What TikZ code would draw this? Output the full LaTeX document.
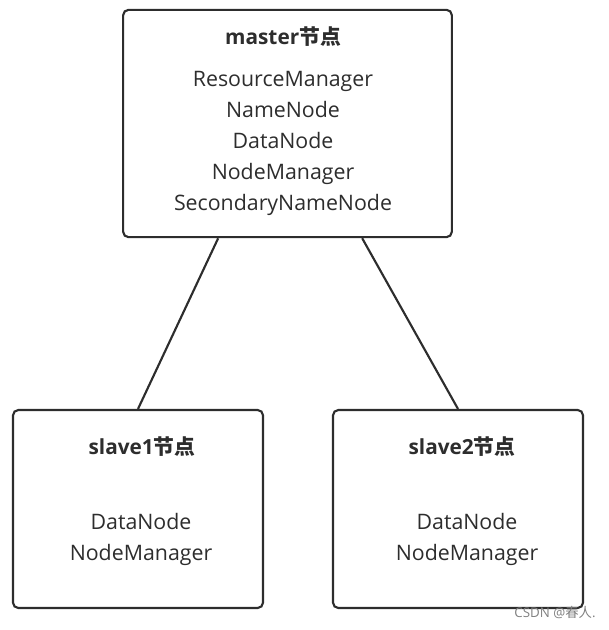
\documentclass[tikz,border=0pt]{standalone}
\usepackage{fontspec}
\setmainfont{Open Sans}
\newfontfamily\cjk{Noto Sans CJK SC}
\usetikzlibrary{positioning}
\definecolor{inkgray}{RGB}{45,45,45}
\tikzset{
  hostbox/.style={draw=inkgray, line width=1.6pt, rounded corners=4pt, inner sep=0pt},
  hosttitle/.style={text=inkgray, font=\fontsize{15.6}{18}\selectfont\bfseries},
  hostlist/.style={text=inkgray, align=center, font=\fontsize{16}{23.3}\selectfont},
  link/.style={draw=inkgray, line width=1.6pt}
}
\begin{document}
\begin{tikzpicture}[x=0.75pt,y=0.75pt,yscale=-1,xscale=1]
\useasboundingbox (0,0) rectangle (608,630);

%Shape: Rectangle [master]
\node[hostbox, minimum width=246.5pt, minimum height=170.5pt] (master) at (287.5,123.5) {};
%Shape: Rectangle [slave1]
\node[hostbox, minimum width=187.5pt, minimum height=148.5pt] (slave1) at (138,509) {};
%Shape: Rectangle [slave2]
\node[hostbox, minimum width=187.5pt, minimum height=148.5pt] (slave2) at (458,509) {};

%Straight Lines [master -- slave1]
\draw[link] ([xshift=-52pt]master.south) -- (slave1.north);
%Straight Lines [master -- slave2]
\draw[link] ([xshift=56pt]master.south) -- (slave2.north);

% Text Node
\node[hosttitle] (masterTitle) at (283,37) {master{\cjk 节点}};
% Text Node
\node[hostlist] (masterList) at (283,143.5) {ResourceManager\\NameNode\\DataNode\\NodeManager\\SecondaryNameNode};
% Text Node
\node[hosttitle] (slave1Title) at (142,447) {slave1{\cjk 节点}};
% Text Node
\node[hostlist] (slave1List) at (141,539) {DataNode\\NodeManager};
% Text Node
\node[hosttitle] (slave2Title) at (462,447) {slave2{\cjk 节点}};
% Text Node
\node[hostlist] (slave2List) at (467,539) {DataNode\\NodeManager};
% Text Node
\node[text=gray, font=\fontsize{10}{12}\selectfont] (mark) at (555,612) {CSDN @{\cjk 春人}.};

\end{tikzpicture}
\end{document}
